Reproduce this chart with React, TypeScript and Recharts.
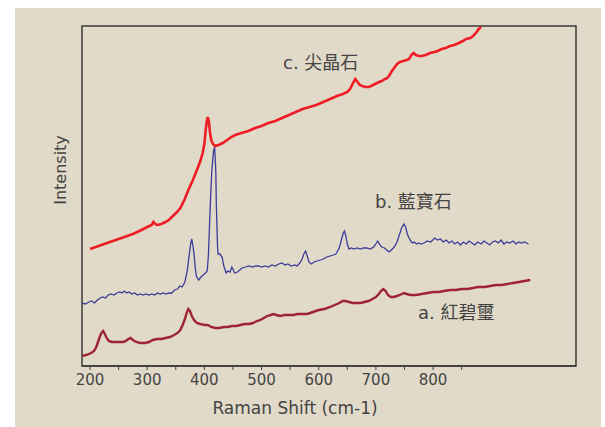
import React from 'react';
import { LineChart, Line, XAxis, YAxis, ReferenceArea } from 'recharts';

// c. spinel (red)
const spinelShift = [200, 215, 230, 245, 260, 275, 290, 300, 308, 311, 314, 318, 325, 332, 338, 345, 352, 358, 365, 372, 380, 387, 393, 397, 400, 402, 404, 406, 408, 410, 412, 415, 419, 425, 432, 440, 447, 454, 465, 477, 489, 500, 512, 524, 536, 548, 560, 572, 584, 596, 608, 620, 632, 642, 650, 655, 660, 664, 668, 672, 676, 682, 688, 695, 702, 710, 716, 720, 724, 728, 732, 737, 742, 748, 754, 758, 762, 766, 770, 775, 780, 787, 795, 802, 808, 815, 822, 830, 837, 845, 852, 858, 865, 870, 875, 880, 884];
const spinelIntensity = [117, 120, 123, 126, 129, 132, 136, 139, 141, 144, 142, 141, 142, 144, 146, 150, 154, 158, 166, 176, 186, 196, 205, 213, 222, 234, 244, 249, 244, 233, 226, 222, 220, 221, 223, 226, 229, 231, 233, 235, 238, 240, 243, 245, 248, 251, 254, 257, 259, 261, 264, 267, 270, 272, 274, 277, 283, 287, 284, 281, 280, 279, 279, 281, 283, 285, 287, 288, 291, 295, 298, 302, 304, 305, 306, 307, 311, 313, 311, 310, 310, 311, 313, 314, 315, 317, 318, 320, 321, 323, 325, 327, 328, 330, 333, 337, 339];

// b. sapphire (blue)
const sapphireShift = [185, 192, 198, 203, 208, 213, 218, 222, 227, 232, 237, 242, 247, 252, 256, 260, 264, 268, 273, 278, 283, 288, 293, 298, 303, 308, 313, 318, 323, 328, 333, 338, 343, 348, 353, 357, 361, 366, 370, 373, 376, 378, 380, 382, 384, 386, 390, 394, 398, 402, 405, 407, 409, 411, 413, 416, 418, 420, 421, 423, 424, 427, 431, 434, 438, 441, 445, 448, 450, 453, 458, 462, 466, 472, 478, 484, 490, 495, 500, 506, 512, 518, 524, 530, 536, 541, 546, 552, 558, 562, 567, 571, 574, 577, 580, 583, 587, 592, 597, 603, 608, 614, 620, 626, 630, 634, 637, 640, 643, 645, 647, 650, 653, 657, 662, 667, 673, 678, 684, 690, 696, 700, 703, 706, 710, 715, 719, 723, 727, 732, 737, 741, 745, 749, 752, 755, 758, 761, 764, 767, 771, 775, 779, 784, 790, 796, 803, 808, 813, 818, 823, 828, 833, 838, 843, 848, 853, 858, 863, 868, 873, 878, 884, 889, 894, 899, 904, 909, 914, 919, 924, 929, 934, 940, 945, 950, 955, 960, 967];
const sapphireIntensity = [63, 62, 64, 65, 63, 66, 68, 69, 68, 71, 72, 71, 73, 74, 73, 75, 73, 74, 72, 73, 71, 72, 71, 72, 71, 72, 71, 73, 72, 73, 72, 73, 73, 76, 77, 80, 79, 84, 95, 109, 122, 127, 120, 112, 98, 90, 86, 89, 91, 93, 95, 110, 140, 170, 195, 215, 219, 195, 160, 120, 112, 112, 109, 100, 93, 95, 94, 99, 97, 93, 94, 96, 98, 99, 100, 99, 100, 100, 99, 100, 99, 101, 100, 102, 103, 101, 102, 100, 101, 100, 103, 107, 112, 115, 110, 104, 102, 104, 105, 106, 107, 109, 110, 111, 112, 116, 120, 127, 133, 135, 131, 122, 117, 118, 117, 118, 117, 118, 118, 117, 119, 122, 125, 122, 119, 118, 116, 114, 116, 119, 124, 131, 138, 142, 139, 132, 128, 125, 123, 124, 122, 123, 122, 123, 125, 124, 128, 126, 127, 124, 126, 123, 125, 122, 124, 121, 124, 122, 125, 123, 121, 124, 122, 125, 123, 121, 124, 125, 123, 126, 122, 124, 123, 125, 122, 124, 123, 124, 122];

// a. rubellite (dark red)
const rubelliteShift = [185, 193, 202, 207, 211, 214, 217, 220, 223, 226, 229, 233, 238, 245, 252, 258, 263, 267, 271, 275, 281, 288, 296, 303, 310, 317, 325, 332, 340, 347, 353, 358, 362, 366, 369, 372, 375, 378, 382, 387, 393, 400, 406, 412, 419, 426, 434, 441, 448, 456, 463, 470, 478, 485, 492, 498, 504, 510, 516, 521, 526, 533, 540, 548, 556, 563, 570, 580, 590, 600, 610, 620, 628, 636, 642, 647, 653, 660, 667, 673, 680, 687, 694, 700, 705, 709, 713, 717, 721, 726, 731, 737, 742, 749, 754, 760, 770, 780, 790, 800, 810, 819, 830, 840, 850, 860, 870, 878, 890, 900, 910, 920, 930, 940, 950, 960, 970];
const rubelliteIntensity = [10, 11, 13, 15, 19, 24, 29, 33, 35, 32, 28, 25, 24, 24, 24, 24, 25, 27, 28, 26, 24, 23, 23, 24, 26, 27, 27, 28, 29, 31, 33, 36, 41, 47, 53, 57, 55, 50, 46, 43, 42, 41, 41, 39, 38, 38, 39, 39, 40, 40, 41, 42, 42, 43, 45, 46, 48, 50, 51, 52, 51, 50, 51, 51, 51, 52, 52, 52, 54, 56, 57, 59, 61, 63, 65, 65, 64, 63, 63, 63, 64, 65, 67, 69, 72, 75, 77, 75, 71, 69, 69, 70, 71, 73, 72, 71, 71, 72, 73, 74, 74, 75, 76, 76, 77, 77, 78, 79, 79, 80, 81, 81, 82, 83, 84, 85, 86];

const xTicks = [200, 250, 300, 350, 400, 450, 500, 550, 600, 650, 700, 750, 800, 850];

const toRows = (xs: number[], ys: number[]) => xs.map((x, i) => ({ x, y: ys[i] }));

const spinel = toRows(spinelShift, spinelIntensity);
const sapphire = toRows(sapphireShift, sapphireIntensity);
const rubellite = toRows(rubelliteShift, rubelliteIntensity);

const FONT = '"DejaVu Sans", "Noto Sans CJK TC", sans-serif';
const TEXT = '#444';

const label = (left: number, top: number): React.CSSProperties => ({
  position: 'absolute', left, top, fontSize: 18, color: TEXT, fontFamily: FONT,
  lineHeight: '22px', whiteSpace: 'nowrap',
});

export default function App() {
  return (
    <div style={{ position: 'absolute', left: 15, top: 8, width: 586, height: 419, background: '#e1dac8' }}>
      <LineChart
        width={586}
        height={419}
        margin={{ top: 18, right: 25, left: 67, bottom: 31 }}
      >
        <XAxis
          dataKey="x"
          type="number"
          domain={[186, 1050]}
          ticks={xTicks}
          allowDataOverflow
          height={30}
          tickSize={4}
          tickMargin={4}
          tickFormatter={(v: number) => (v % 100 === 0 ? String(v) : '')}
          tick={{ fontSize: 15, fill: TEXT, fontFamily: FONT }}
          tickLine={{ stroke: '#444' }}
          axisLine={{ stroke: '#3a3a3a', strokeWidth: 1.5 }}
        />
        <YAxis type="number" domain={[0, 340]} hide allowDataOverflow />
        <ReferenceArea
          x1={186}
          x2={1050}
          y1={0}
          y2={340}
          fill="none"
          stroke="#3a3a3a"
          strokeWidth={1.5}
          ifOverflow="visible"
        />
        <Line data={rubellite} dataKey="y" type="linear" stroke="#9e2431" strokeWidth={2.4} dot={false} isAnimationActive={false} />
        <Line data={sapphire} dataKey="y" type="linear" stroke="#3b3b9b" strokeWidth={1.3} dot={false} isAnimationActive={false} />
        <Line data={spinel} dataKey="y" type="linear" stroke="#ee1c25" strokeWidth={2.6} dot={false} isAnimationActive={false} />
      </LineChart>
      <div style={label(268, 44)}>c. 尖晶石</div>
      <div style={label(360, 183)}>b. 藍寶石</div>
      <div style={label(403, 294)}>a. 紅碧璽</div>
      <div
        style={{
          position: 'absolute', left: 45, top: 162, fontSize: 16, color: TEXT, fontFamily: FONT,
          transform: 'translate(-50%, -50%) rotate(-90deg)', whiteSpace: 'nowrap',
        }}
      >
        Intensity
      </div>
      <div
        style={{
          position: 'absolute', left: 280, top: 400, fontSize: 17, color: TEXT, fontFamily: FONT,
          transform: 'translate(-50%, -50%)', whiteSpace: 'nowrap',
        }}
      >
        Raman Shift (cm-1)
      </div>
    </div>
  );
}
